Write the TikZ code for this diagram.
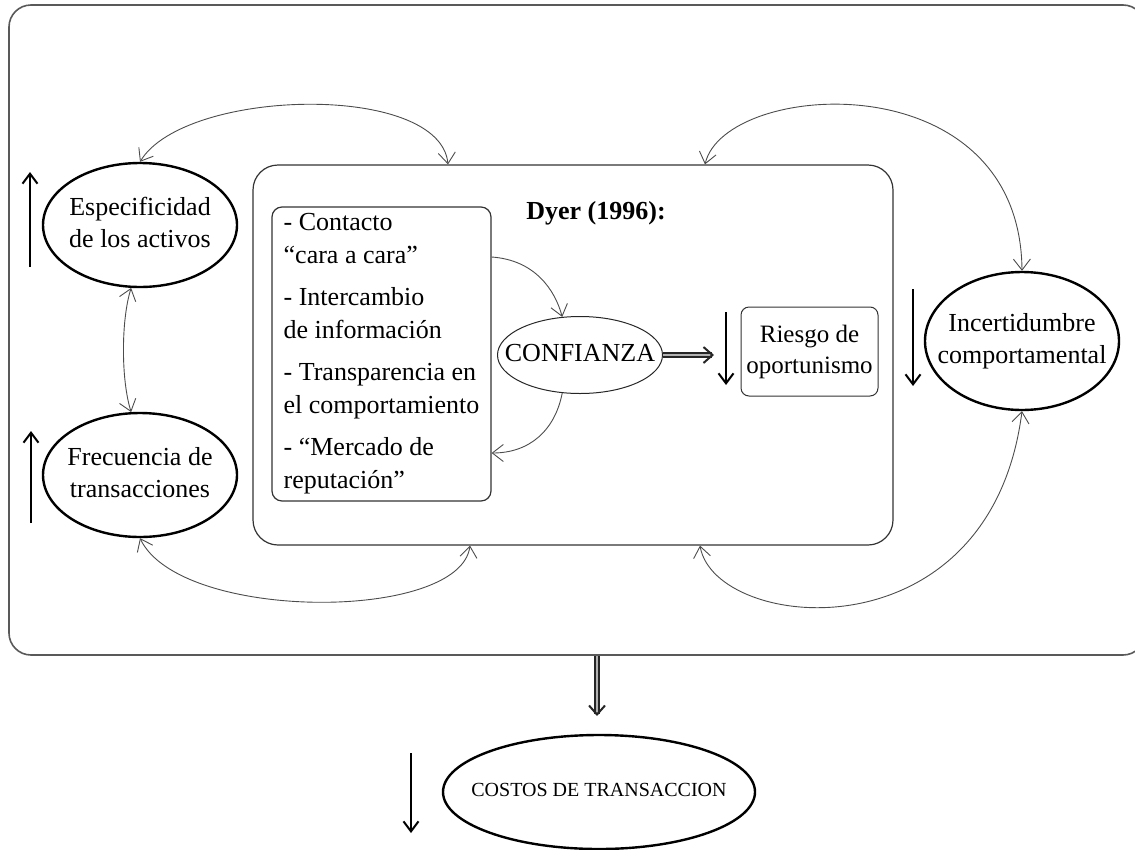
\documentclass[tikz,border=0pt]{standalone}
\usepackage{fontspec}
\setmainfont{Liberation Serif}
\usetikzlibrary{arrows.meta,calc,shapes.geometric}
\newcommand\mfs{\fontsize{26}{32}\selectfont}
\newcommand\ctext[1]{\makebox[0pt]{\begin{tabular}{@{}c@{}}#1\end{tabular}}}
\tikzset{
  bigell/.style={ellipse, draw=black, line width=2.4pt, inner sep=0pt,
     minimum width=194pt, minimum height=124pt, font=\mfs},
  thinell/.style={ellipse, draw=black!85, line width=1pt, inner sep=0pt, font=\mfs},
  rbox/.style={rectangle, draw=black!80, line width=1.2pt, inner sep=0pt},
  conn/.style={draw=black!70, line width=0.9pt,
     {Straight Barb[length=11pt,width=17pt]}-{Straight Barb[length=11pt,width=17pt]}},
  connto/.style={draw=black!70, line width=0.9pt, -{Straight Barb[length=11pt,width=17pt]}},
  trend/.style={draw=black, line width=2pt, -{Straight Barb[length=10pt,width=15pt]}},
  dblshaft/.style={draw=black!85, double=white!70!black, double distance=2.6pt, line width=1.5pt,
     shorten >=2pt},
  dblhead/.style={draw=black!85, line width=2pt, -{Straight Barb[length=9pt,width=16pt]}},
}
\begin{document}
\begin{tikzpicture}[x=1pt,y=-1pt]
\useasboundingbox (0,0) rectangle (1135,849);

% frames
\node[rbox, draw=black!65, line width=1.6pt, rounded corners=22pt,
      minimum width=1136pt, minimum height=650pt] (outer) at (577,330) {};
\node[rbox, rounded corners=25pt, minimum width=640pt, minimum height=380pt] (dyer) at (573,355) {};
\node[font=\mfs\bfseries] (dyertitle) at (596,213) {Dyer (1996):};

% list box
\node[rbox, rounded corners=10pt, minimum width=219pt, minimum height=294pt,
      align=left, font=\fontsize{26}{33}\selectfont] (list) at (381.5,354)
  {- Contacto\\ ``cara a cara''\\[9pt] - Intercambio\\ de información\\[9pt]
   - Transparencia en\\ el comportamiento\\[9pt] - ``Mercado de\\ reputación''};

\node[thinell, minimum width=165pt, minimum height=77pt] (conf) at (580,355) {\ctext{CONFIANZA}};
\node[rbox, rounded corners=8pt, line width=1pt, minimum width=137pt, minimum height=89pt,
      align=center, font=\fontsize{25}{31}\selectfont] (riesgo) at (809.5,351.5)
  {Riesgo de\\oportunismo};

% outer factors
\node[bigell] (esp) at (140,225) {\ctext{Especificidad\\de los activos}};
\node[bigell] (frec) at (140,475) {\ctext{Frecuencia de\\transacciones}};
\node[bigell, minimum width=194pt, minimum height=138pt] (inc) at (1022,341) {\ctext{Incertidumbre\\comportamental}};
\node[bigell, minimum width=312pt, minimum height=114pt, font=\fontsize{20}{24}\selectfont] (costos) at (599,792) {\ctext{COSTOS DE TRANSACCION}};

% trend arrows
\draw[trend] (30,267) -- (30,172);
\draw[trend] (31,523) -- (31,431);
\draw[trend] (726,312) -- (726,385);
\draw[trend] (913,289) -- (913,386);
\draw[trend] (411,753) -- (411,833);

% double arrows
\coordinate (confto) at (714,355);
\coordinate (confpre) at (711,355);
\draw[dblshaft] (conf.east) -- (confto);
\draw[dblhead] (confpre) -- (confto);
\coordinate (outout) at (597,0 |- outer.south);
\coordinate (costin) at (597,716);
\coordinate (costpre) at (597,713);
\draw[dblshaft] (outout) -- (costin);
\draw[dblhead] (costpre) -- (costin);

% curved connectors
\draw[conn] (esp.north) .. controls (185,88) and (440,82) .. (448,0 |- dyer.north);
\draw[conn] (705,0 |- dyer.north) .. controls (725,80) and (1020,60) .. (inc.north);
\draw[conn] (esp.262) .. controls (121,320) and (121,380) .. (frec.98);
\draw[conn] (frec.south) .. controls (180,622) and (460,622) .. (470,0 |- dyer.south);
\draw[conn] (700,0 |- dyer.south) .. controls (715,632) and (990,660) .. (inc.south);
\draw[connto] (list.east |- 0,257) .. controls (535,260) and (555,290) .. (conf.115);
\draw[connto] (conf.245) .. controls (555,430) and (530,453) .. (list.east |- 0,453);
\end{tikzpicture}
\end{document}
